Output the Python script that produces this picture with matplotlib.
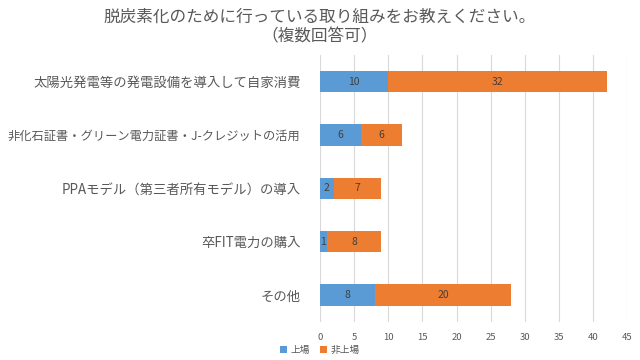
import numpy as np
import matplotlib.pyplot as plt

plt.rcParams['font.family'] = ['Noto Sans CJK JP', 'DejaVu Sans']

categories = [
    '太陽光発電等の発電設備を導入して自家消費',
    '非化石証書・グリーン電力証書・J-クレジットの活用',
    'PPAモデル（第三者所有モデル）の導入',
    '卒FIT電力の購入',
    'その他',
]
listed = [10, 6, 2, 1, 8]
unlisted = [32, 6, 7, 8, 20]
xticks = [0, 5, 10, 15, 20, 25, 30, 35, 40, 45]

blue = '#5B9BD5'
orange = '#ED7D31'
text_col = '#595959'

fig = plt.figure(figsize=(6.4, 3.6), dpi=100)
ax = fig.add_axes([0.5, 0.106, 0.48, 0.741])

y = np.arange(len(categories))
b1 = ax.barh(y, listed, height=0.4, color=blue, label='上場')
b2 = ax.barh(y, unlisted, left=listed, height=0.4, color=orange, label='非上場')
ax.bar_label(b1, label_type='center', fontsize=7.5, color='#404040')
ax.bar_label(b2, label_type='center', fontsize=7.5, color='#404040')

ax.set_xlim(0, 45)
ax.set_ylim(len(categories) - 0.5, -0.5)
ax.set_xticks(xticks)
ax.set_yticks(y)
ax.set_yticklabels(categories, fontsize=9.6, color=text_col)
# the long label uses full-width dots here, shrink it so it fits
ax.get_yticklabels()[1].set_fontsize(8.8)
ax.tick_params(axis='x', length=0, labelsize=6.8, labelcolor=text_col, pad=8)
ax.tick_params(axis='y', length=0, pad=14)
ax.grid(axis='x', color='#D9D9D9', linewidth=0.8)
ax.set_axisbelow(True)
for s in ax.spines.values():
    s.set_visible(False)

fig.text(0.5, 0.975, '脱炭素化のために行っている取り組みをお教えください。\n（複数回答可）',
         ha='center', va='top', fontsize=12, color=text_col, linespacing=1.15)

fig.legend(loc='lower center', bbox_to_anchor=(0.5, -0.01), ncol=2, frameon=False,
           fontsize=7, labelcolor=text_col, handlelength=0.7, handleheight=0.7,
           columnspacing=1.0, handletextpad=0.4)

fig.savefig('out.png', dpi=100)
